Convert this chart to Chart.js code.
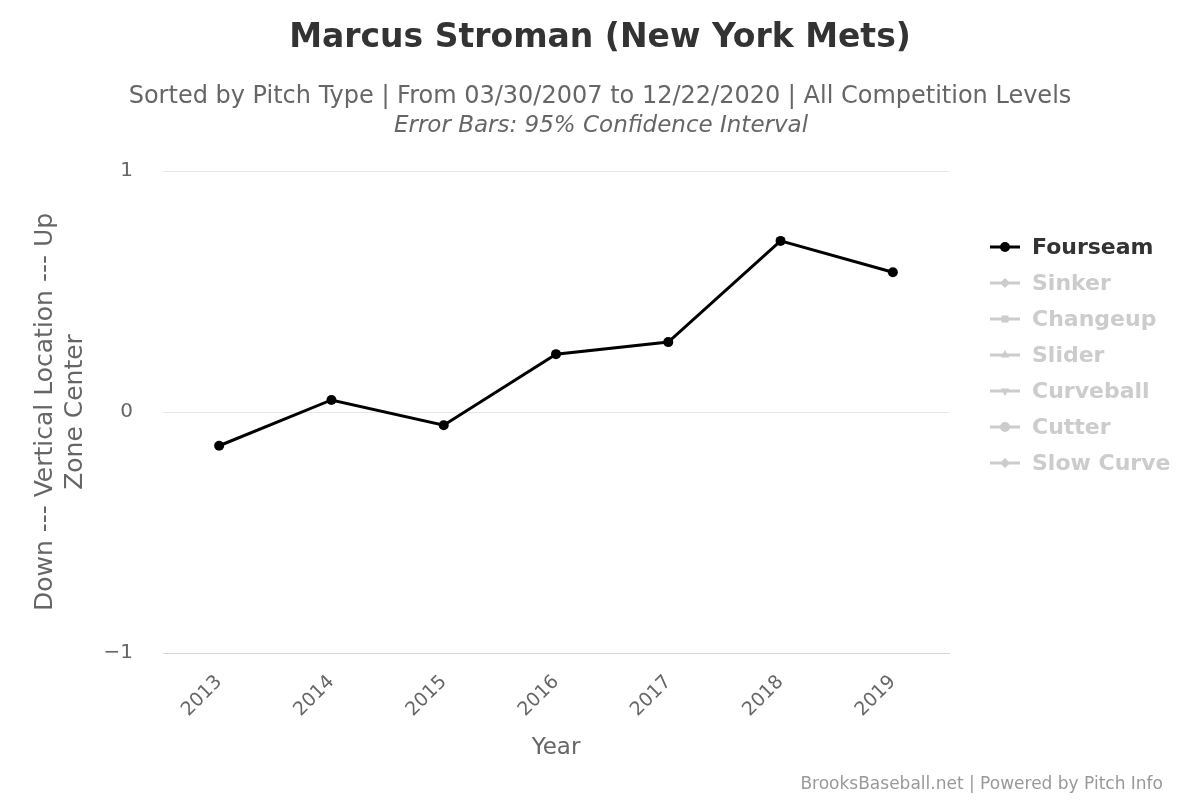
<!DOCTYPE html>
<html lang="en">
<head>
    <meta charset="UTF-8">
    <title>Marcus Stroman - Vertical Location</title>
    <script src="https://cdn.jsdelivr.net/npm/chart.js"></script>
    <style>
        html, body { margin: 0; padding: 0; background: #ffffff; }
        #wrap { width: 1200px; height: 800px; }
    </style>
</head>
<body>
    <div id="wrap">
        <canvas id="chart" width="1200" height="800"></canvas>
    </div>
    <script>
        // Data
        const years = ['2013', '2014', '2015', '2016', '2017', '2018', '2019'];
        const fourseam = [-0.14, 0.05, -0.055, 0.24, 0.29, 0.71, 0.58];
        const pitchTypes = ['Fourseam', 'Sinker', 'Changeup', 'Slider', 'Curveball', 'Cutter', 'Slow Curve'];
        const pitchMarkers = ['circle', 'rectRot', 'rect', 'triangle', 'triangle', 'circle', 'rectRot'];
        const pitchRotation = [0, 0, 0, 0, 180, 0, 0];
        const pitchValues = [fourseam, [], [], [], [], [], []];
        const yTicks = [-1, 0, 1];

        const titleText = 'Marcus Stroman (New York Mets)';
        const subtitleText = 'Sorted by Pitch Type | From 03/30/2007 to 12/22/2020 | All Competition Levels';
        const noteText = 'Error Bars: 95% Confidence Interval';
        const creditText = 'BrooksBaseball.net | Powered by Pitch Info';

        const datasets = pitchTypes.map((name, i) => ({
            label: name,
            data: pitchValues[i],
            hidden: i !== 0,
            borderColor: '#000000',
            backgroundColor: '#000000',
            borderWidth: 3,
            pointStyle: pitchMarkers[i],
            pointRotation: pitchRotation[i],
            pointRadius: 5,
            pointBorderWidth: 0,
            tension: 0
        }));

        // Header texts, legend and credits
        const decorations = {
            id: 'decorations',
            beforeDraw(chart) {
                const ctx = chart.ctx;
                ctx.save();
                ctx.fillStyle = '#ffffff';
                ctx.fillRect(0, 0, chart.width, chart.height);
                ctx.restore();
            },
            afterDraw(chart) {
                const ctx = chart.ctx;
                ctx.save();
                ctx.textAlign = 'center';
                ctx.textBaseline = 'middle';

                ctx.fillStyle = '#333333';
                ctx.font = 'bold 33px "DejaVu Sans"';
                ctx.fillText(titleText, 600, 38);

                ctx.fillStyle = '#666666';
                ctx.font = '24px "DejaVu Sans"';
                ctx.fillText(subtitleText, 600, 97);
                ctx.font = 'italic 23px "DejaVu Sans"';
                ctx.fillText(noteText, 601, 126);

                // legend
                ctx.textAlign = 'left';
                chart.data.datasets.forEach((ds, i) => {
                    const y = 247 + i * 36;
                    const active = chart.isDatasetVisible(i);
                    const col = active ? '#000000' : '#cccccc';
                    ctx.strokeStyle = col;
                    ctx.fillStyle = col;
                    ctx.lineWidth = 3;
                    ctx.beginPath();
                    ctx.moveTo(990, y);
                    ctx.lineTo(1020, y);
                    ctx.stroke();
                    Chart.helpers.drawPoint(ctx, {
                        pointStyle: ds.pointStyle,
                        rotation: ds.pointRotation,
                        radius: 5,
                        borderWidth: 0
                    }, 1005, y);
                    ctx.fillStyle = active ? '#333333' : '#cccccc';
                    ctx.font = 'bold 22px "DejaVu Sans"';
                    ctx.fillText(ds.label, 1032, y + 1);
                });

                // credits
                ctx.textAlign = 'right';
                ctx.fillStyle = '#999999';
                ctx.font = '17px "DejaVu Sans"';
                ctx.fillText(creditText, 1163, 785);
                ctx.restore();
            }
        };

        new Chart(document.getElementById('chart'), {
            type: 'line',
            data: { labels: years, datasets: datasets },
            options: {
                responsive: false,
                animation: false,
                devicePixelRatio: 1,
                layout: { padding: { top: 171, right: 251, left: 20, bottom: 30 } },
                plugins: {
                    legend: { display: false },
                    tooltip: { enabled: false }
                },
                scales: {
                    x: {
                        offset: true,
                        grid: { display: false },
                        border: { display: true, color: '#ccd6eb', width: 1 },
                        ticks: {
                            color: '#666666',
                            font: { family: 'DejaVu Sans', size: 19 },
                            minRotation: 45,
                            maxRotation: 45,
                            padding: 10
                        },
                        title: {
                            display: true,
                            text: 'Year',
                            color: '#666666',
                            font: { family: 'DejaVu Sans', size: 23 },
                            padding: { top: 0, bottom: 8 }
                        },
                        afterFit(scale) { scale.height = 117; }
                    },
                    y: {
                        min: -1,
                        max: 1,
                        afterBuildTicks(scale) { scale.ticks = yTicks.map(v => ({ value: v })); },
                        grid: {
                            drawTicks: false,
                            color: ctx => (ctx.tick && ctx.tick.value === -1) ? '#ccd6eb' : '#e6e6e6',
                            lineWidth: 1
                        },
                        border: { display: false },
                        ticks: {
                            color: '#666666',
                            font: { family: 'DejaVu Sans', size: 20 },
                            padding: 30,
                            callback: v => v < 0 ? '\u2212' + Math.abs(v) : String(v)
                        },
                        title: {
                            display: true,
                            text: ['Down --- Vertical Location --- Up', 'Zone Center'],
                            color: '#666666',
                            font: { family: 'DejaVu Sans', size: 25, lineHeight: 1.2 },
                            padding: { top: 10, bottom: 0 }
                        },
                        afterFit(scale) { scale.width = 143; }
                    }
                }
            },
            plugins: [decorations]
        });
    </script>
</body>
</html>
